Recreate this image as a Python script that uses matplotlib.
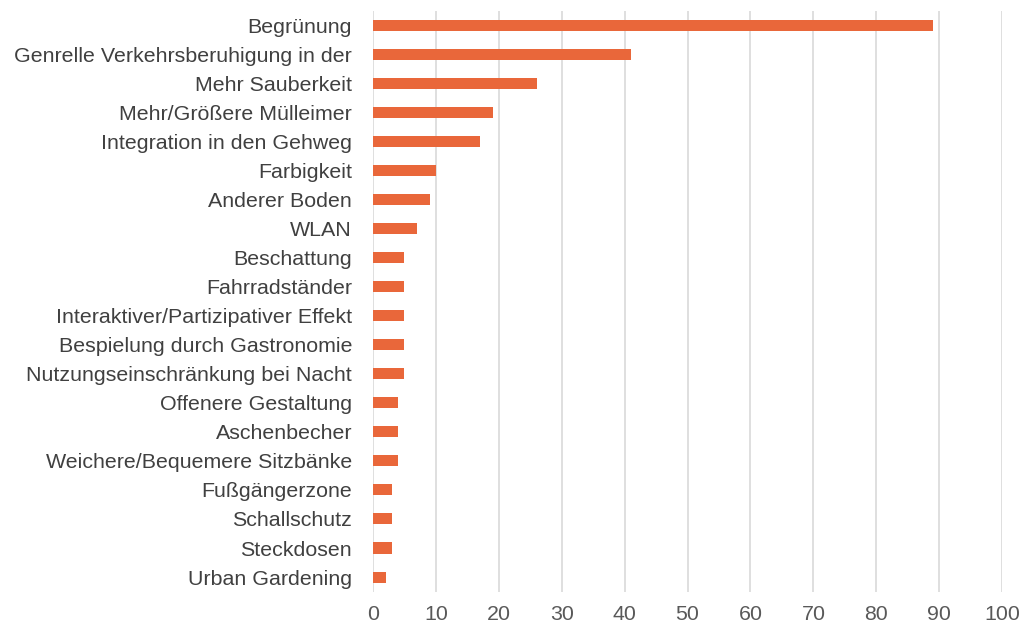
import matplotlib.pyplot as plt

categories = [
    "Begrünung",
    "Genrelle Verkehrsberuhigung in der",
    "Mehr Sauberkeit",
    "Mehr/Größere Mülleimer",
    "Integration in den Gehweg",
    "Farbigkeit",
    "Anderer Boden",
    "WLAN",
    "Beschattung",
    "Fahrradständer",
    "Interaktiver/Partizipativer Effekt",
    "Bespielung durch Gastronomie",
    "Nutzungseinschränkung bei Nacht",
    "Offenere Gestaltung",
    "Aschenbecher",
    "Weichere/Bequemere Sitzbänke",
    "Fußgängerzone",
    "Schallschutz",
    "Steckdosen",
    "Urban Gardening",
]
values = [89, 41, 26, 19, 17, 10, 9, 7, 5, 5, 5, 5, 5, 4, 4, 4, 3, 3, 3, 2]
xticks = list(range(0, 101, 10))

plt.rcParams['font.family'] = ['Liberation Sans', 'DejaVu Sans']

fig = plt.figure(figsize=(10.23, 6.3), dpi=100)
ax = fig.add_axes([0.3646, 0.061, 0.615, 0.922])

ypos = list(range(len(categories)))
ax.barh(ypos, values, height=0.38, color='#E9673A', zorder=3)

ax.set_ylim(len(categories) - 0.5, -0.5)
ax.set_yticks(ypos)
ax.set_yticklabels(categories, fontsize=15.4, color='#404040')
ax.set_xlim(0, 100)
ax.set_xticks(xticks)
ax.set_xticklabels([str(t) for t in xticks], fontsize=15.4, color='#595959')
ax.tick_params(axis='both', length=0)
ax.tick_params(axis='y', pad=15)
ax.tick_params(axis='x', pad=10)

ax.grid(axis='x', color='#d9d9d9', linewidth=1.2, zorder=0)
for s in ax.spines.values():
    s.set_visible(False)

fig.savefig('out.png', dpi=100)
